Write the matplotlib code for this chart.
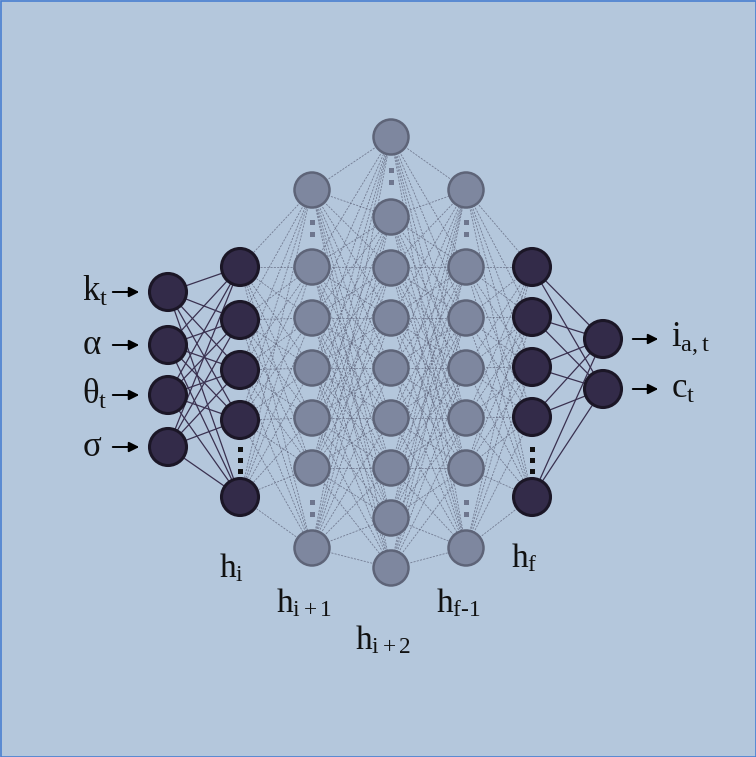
import matplotlib
matplotlib.use("Agg")
import matplotlib.pyplot as plt
from matplotlib.patches import Circle, Rectangle

plt.rcParams["font.family"] = ["Liberation Serif", "DejaVu Serif"]
plt.rcParams["mathtext.fontset"] = "custom"
plt.rcParams["mathtext.rm"] = "Liberation Serif"
plt.rcParams["mathtext.it"] = "Liberation Serif"

BG = "#b4c7dc"
DARK, DARK_EDGE = "#332b49", "#1b1626"
GRAY, GRAY_EDGE = "#7e879f", "#5e6478"

# layer layout in pixel coordinates (x, list of node y, dot y positions)
layer_x = [168, 240, 312, 391, 466, 532, 603]
layer_y = [
    [292, 345, 395, 447],
    [267, 320, 370, 420, 497],
    [190, 267, 318, 368, 418, 468, 548],
    [137, 217, 268, 318, 368, 418, 468, 518, 568],
    [190, 267, 318, 368, 418, 468, 548],
    [267, 317, 367, 417, 497],
    [339, 389],
]
layer_dots = [[], [460], [229, 509], [177], [229, 509], [460], []]
layer_dark = [True, True, False, False, False, True, True]
layer_labels = ["", r"$\mathrm{h_i}$", r"$\mathrm{h_{i+1}}$", r"$\mathrm{h_{i+2}}$",
                r"$\mathrm{h_{f\text{-}1}}$", r"$\mathrm{h_f}$", ""]
label_y = [0, 568, 603, 640, 603, 558, 0]

inputs = [r"$\mathrm{k_t}$", r"$\mathrm{\alpha}$", r"$\mathrm{\theta_t}$", r"$\mathrm{\sigma}$"]
outputs = [r"$\mathrm{i_{a,t}}$", r"$\mathrm{c_t}$"]

fig = plt.figure(figsize=(7.56, 7.57), dpi=100)
fig.patch.set_facecolor(BG)
ax = fig.add_axes([0, 0, 1, 1])
ax.set_facecolor(BG)
ax.set_xlim(0, 756)
ax.set_ylim(757, 0)
ax.axis("off")
ax.add_patch(Rectangle((0.5, 0.5), 755, 756, fill=False, ec="#4a7fd0", lw=1.2))

# connections
for li in range(len(layer_x) - 1):
    x0, x1 = layer_x[li], layer_x[li + 1]
    solid = layer_dark[li] and layer_dark[li + 1]
    for y0 in layer_y[li]:
        for y1 in layer_y[li + 1]:
            if solid:
                ax.plot([x0, x1], [y0, y1], color="#3a3150", lw=0.9, zorder=1)
            else:
                ax.plot([x0, x1], [y0, y1], color="#5d6279", lw=0.6,
                        ls=(0, (2.5, 1.5)), alpha=0.75, zorder=1)

# nodes
for li, x in enumerate(layer_x):
    dark = layer_dark[li]
    r = 18.5 if dark else 17.5
    for y in layer_y[li]:
        ax.add_patch(Circle((x, y), r, fc=DARK if dark else GRAY,
                            ec=DARK_EDGE if dark else GRAY_EDGE,
                            lw=2.2 if dark else 1.8, zorder=3))
    for yd in layer_dots[li]:
        c = "#111111" if dark else "#6e768e"
        for k in (-11, 0, 11) if dark else (-7, 5):
            ax.add_patch(Rectangle((x - 2.5, yd + k - 2.5), 5, 5, fc=c, ec="none", zorder=3))
    if layer_labels[li]:
        ax.text(x - 8, label_y[li], layer_labels[li], fontsize=24,
                ha="center", va="center", color="#111111")

# input labels and arrows
for y, lab in zip(layer_y[0], inputs):
    ax.text(82, y, lab, fontsize=25, ha="left", va="center", color="#111111")
    ax.annotate("", xy=(142, y), xytext=(110, y),
                arrowprops=dict(arrowstyle="-|>,head_length=0.6,head_width=0.3",
                                color="black", lw=1.4))

# output arrows and labels
for y, lab in zip(layer_y[-1], outputs):
    ax.annotate("", xy=(661, y), xytext=(630, y),
                arrowprops=dict(arrowstyle="-|>,head_length=0.6,head_width=0.3",
                                color="black", lw=1.4))
    ax.text(671, y, lab, fontsize=25, ha="left", va="center", color="#111111")

fig.savefig("out.png", dpi=100, facecolor=BG)
